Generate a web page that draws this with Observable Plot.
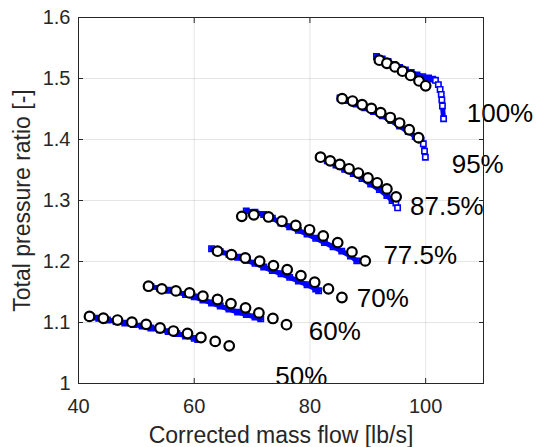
<!DOCTYPE html>
<html>
<head>
<meta charset="utf-8">
<script src="https://cdn.jsdelivr.net/npm/d3@7"></script>
<script src="https://cdn.jsdelivr.net/npm/@observablehq/plot@0.6"></script>
<style>
  html, body { margin: 0; padding: 0; background: #fff; }
  #chart { width: 539px; height: 447px; }
</style>
</head>
<body>
<div id="chart"></div>
<script>
// ---- Data ----
const xTicks = [40, 60, 80, 100];
const yTicks = [1, 1.1, 1.2, 1.3, 1.4, 1.5, 1.6];
const xDomain = [40, 110];
const yDomain = [1, 1.6];

const xLabel = "Corrected mass flow [lb/s]";
const yLabel = "Total pressure ratio [-]";

// speed-line labels
const speedNames = ["50%", "60%", "70%", "77.5%", "87.5%", "95%", "100%"];
const speedLabelX = [74.0, 79.8, 88.1, 92.7, 97.3, 104.5, 107.1];
const speedLabelY = [1.011, 1.085, 1.139, 1.210, 1.290, 1.358, 1.442];

// measured points (black circles)
const exp50 = [[41.9,1.110],[44.3,1.107],[46.74,1.104],[49.23,1.1005],[51.7,1.097],[54.1,1.091],[56.4,1.086],[58.84,1.082],[61.16,1.0754],[63.63,1.069],[66.05,1.0617]];
const exp60 = [[52.1,1.1595],[54.4,1.155],[56.84,1.1518],[59.19,1.1485],[61.5,1.143],[64.03,1.1377],[66.35,1.131],[68.87,1.124],[71.18,1.1157],[73.6,1.1066],[75.95,1.0964]];
const exp70 = [[64.03,1.2169],[66.44,1.2112],[68.82,1.2058],[71.31,1.2004],[73.69,1.1933],[76.07,1.1867],[78.44,1.1769],[80.82,1.1661],[83.2,1.1552],[85.53,1.141]];
const exp775 = [[68.22,1.274],[70.3,1.2765],[72.84,1.273],[75.16,1.266],[77.55,1.259],[79.93,1.252],[82.3,1.242],[84.8,1.231],[87.26,1.2157],[89.56,1.201]];
const exp875 = [[81.83,1.371],[83.5,1.365],[85.16,1.359],[86.76,1.352],[88.37,1.345],[90.03,1.337],[91.63,1.329],[93.3,1.319],[94.9,1.306]];
const exp95 = [[85.57,1.467],[87.36,1.463],[89.02,1.457],[90.62,1.451],[92.23,1.444],[93.89,1.436],[95.5,1.427],[97.16,1.416],[98.77,1.403]];
const exp100 = [[92.0,1.530],[93.3,1.525],[94.7,1.519],[96.0,1.512],[97.4,1.505],[98.85,1.496],[100.0,1.488]];

// simulated points (blue squares), dense band part
const sim50 = [[42.3,1.109],[43.5,1.107],[45,1.104],[46.5,1.1015],[48,1.099],[49.5,1.0965],[51,1.094],[52.5,1.091],[54,1.088],[55.5,1.085],[57,1.082],[58.5,1.078],[60,1.074],[60.6,1.072]];
const sim60 = [[52.5,1.159],[54,1.156],[55.5,1.153],[57,1.150],[58.5,1.146],[60,1.142],[61.5,1.137],[63,1.132],[64.5,1.127],[66,1.122],[67.5,1.117],[69,1.113],[70.5,1.109],[71.5,1.106]];
const sim70 = [[63,1.221],[64.5,1.216],[66,1.212],[67.5,1.207],[69,1.202],[70.5,1.197],[72,1.191],[73.5,1.185],[75,1.180],[76.5,1.174],[78,1.168],[79.5,1.162],[81,1.155],[81.5,1.152]];
const sim775 = [[69,1.283],[70.5,1.281],[72,1.277],[73.5,1.271],[75,1.263],[76.5,1.257],[78,1.251],[79.5,1.245],[81,1.238],[82.5,1.231],[84,1.224],[85.5,1.217],[87,1.209],[88.1,1.201]];
const sim875 = [[81.6,1.371],[83,1.365],[84.5,1.358],[86,1.351],[87.5,1.344],[89,1.336],[90.5,1.327],[92,1.318],[93.3,1.308],[94.2,1.300]];
const sim95 = [[85.2,1.468],[86.5,1.464],[88,1.458],[89.5,1.452],[91,1.446],[92.5,1.439],[94,1.431],[95.5,1.422],[97,1.413],[98.2,1.405],[99.2,1.399]];
const sim100 = [[91.5,1.536],[92.5,1.532],[93.5,1.528],[94.5,1.523],[95.5,1.518],[96.5,1.514],[97.5,1.510],[98.5,1.506],[99.5,1.503],[100.5,1.501],[101.2,1.499]];
// simulated choke points (distinct squares)
const choke875 = [[94.85,1.296],[95.15,1.288]];
const choke95 = [[99.6,1.393],[99.8,1.381],[99.95,1.371]];
const choke100 = [[101.7,1.497],[102.2,1.490],[102.5,1.482],[102.7,1.474],[102.8,1.465],[102.9,1.455],[103.1,1.434]];

// ---- Build tables ----
const expSets = [exp50, exp60, exp70, exp775, exp875, exp95, exp100];
const simSets = [sim50, sim60, sim70, sim775, sim875, sim95, sim100];
const chokeSets = [[], [], [], [], choke875, choke95, choke100];

const rows = (pts, speed) => pts.map(([x, y]) => ({x, y, speed}));
const expRows = expSets.flatMap((p, i) => rows(p, speedNames[i]));
const simBandRows = simSets.flatMap((p, i) => rows(p, speedNames[i]));
const chokeRows = chokeSets.flatMap((p, i) => rows(p, speedNames[i]));
const simLineRows = simSets.flatMap((p, i) => rows(p.concat(chokeSets[i]), speedNames[i]));
const labelRows = speedNames.map((t, i) => ({text: t, x: speedLabelX[i], y: speedLabelY[i]}));

const axisColor = "#262626";
const blue = "#0000ff";

const chart = Plot.plot({
  width: 539,
  height: 447,
  marginLeft: 78,
  marginRight: 56,
  marginTop: 17,
  marginBottom: 64,
  style: {fontFamily: "'Liberation Sans', Arial, Helvetica, sans-serif", background: "#fff", color: axisColor, overflow: "visible"},
  x: {domain: xDomain},
  y: {domain: yDomain},
  marks: [
    Plot.gridX(xTicks, {stroke: "#000", strokeOpacity: 0.1}),
    Plot.gridY(yTicks, {stroke: "#000", strokeOpacity: 0.1}),
    Plot.line(simLineRows, {x: "x", y: "y", z: "speed", stroke: blue, strokeWidth: 5}),
    Plot.dot(simBandRows, {x: "x", y: "y", symbol: "square", r: 3, stroke: blue, strokeWidth: 1.6, fill: "none"}),
    Plot.dot(chokeRows, {x: "x", y: "y", symbol: "square", r: 3, stroke: blue, strokeWidth: 1.6, fill: "white"}),
    Plot.dot(expRows, {x: "x", y: "y", r: 4.8, stroke: "black", strokeWidth: 2.2, fill: "white"}),
    Plot.text(labelRows.filter(d => d.text !== "50%"), {x: "x", y: "y", text: "text", textAnchor: "start", fontSize: 26, fill: "black"}),
    Plot.text(labelRows.filter(d => d.text === "50%"), {x: "x", y: "y", text: "text", textAnchor: "start", fontSize: 26, fill: "black", clip: true}),
    Plot.frame({stroke: axisColor}),
    // inward tick marks on all four sides
    Plot.axisX(xTicks, {anchor: "bottom", tickSize: 5, dy: -5, fill: "none", label: null, stroke: axisColor}),
    Plot.axisX(xTicks, {anchor: "top", tickSize: 5, dy: 5, fill: "none", label: null, stroke: axisColor}),
    Plot.axisY(yTicks, {anchor: "left", tickSize: 5, dx: 5, fill: "none", label: null, stroke: axisColor}),
    Plot.axisY(yTicks, {anchor: "right", tickSize: 5, dx: -5, fill: "none", label: null, stroke: axisColor}),
    // tick labels
    Plot.axisX(xTicks, {anchor: "bottom", tickSize: 0, tickPadding: 15, fontSize: 20, label: null, tickFormat: d => String(d), fill: axisColor}),
    Plot.axisY(yTicks, {anchor: "left", tickSize: 0, tickPadding: 8, fontSize: 20, label: null, tickFormat: d => String(+d.toFixed(1)), fill: axisColor}),
    // axis titles
    Plot.text([xLabel], {frameAnchor: "bottom", dy: 52, textAnchor: "middle", lineAnchor: "middle", fontSize: 23, fill: axisColor}),
    Plot.text([yLabel], {frameAnchor: "left", dx: -56, rotate: -90, textAnchor: "middle", lineAnchor: "middle", fontSize: 23, fill: axisColor})
  ]
});
document.getElementById("chart").appendChild(chart);
</script>
</body>
</html>
